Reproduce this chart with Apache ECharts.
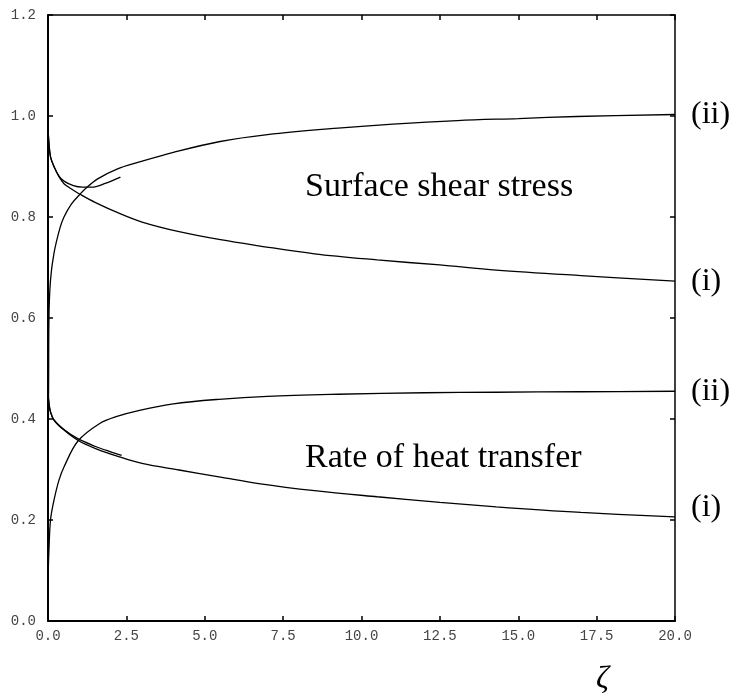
<!DOCTYPE html>
<html>
<head>
<meta charset="utf-8">
<script src="https://cdn.jsdelivr.net/npm/echarts@6/dist/echarts.min.js"></script>
<style>
  html, body { margin: 0; padding: 0; background: #fff; }
  #chart { width: 732px; height: 698px; }
</style>
</head>
<body>
<div id="chart"></div>
<script>
// zeta values and curves, [zeta, value]
const shearI = [[0, 0.976], [0.03, 0.946], [0.08, 0.919], [0.19, 0.9], [0.35, 0.88], [0.51, 0.866], [0.81, 0.853], [1.02, 0.845], [1.5, 0.829], [2.28, 0.807], [3, 0.79], [4.18, 0.771], [5.5, 0.755], [6.72, 0.743], [8.5, 0.727], [10.5, 0.715], [12.5, 0.705], [14.3, 0.695], [17, 0.684], [20, 0.673]];
const shearII = [[0, 0], [0.005, 0.3], [0.02, 0.48], [0.03, 0.6], [0.08, 0.675], [0.19, 0.728], [0.38, 0.778], [0.51, 0.8], [0.75, 0.826], [1.02, 0.845], [1.14, 0.853], [1.57, 0.875], [2.2, 0.895], [2.92, 0.909], [4, 0.928], [5.45, 0.949], [7, 0.963], [9.25, 0.976], [11, 0.984], [13.06, 0.991], [15, 0.995], [16.87, 0.999], [20, 1.003]];
const shearSeries = [[0, 0.976], [0.03, 0.946], [0.08, 0.919], [0.19, 0.9], [0.35, 0.881], [0.51, 0.871], [0.81, 0.862], [1.1, 0.859], [1.4, 0.859], [1.8, 0.866], [2.31, 0.879]];

const heatI = [[0, 0.452], [0.03, 0.431], [0.08, 0.414], [0.19, 0.398], [0.51, 0.378], [0.95, 0.358], [1.5, 0.342], [2.28, 0.325], [3, 0.312], [4.18, 0.299], [5.5, 0.285], [6.72, 0.272], [8.5, 0.258], [10.5, 0.246], [12.5, 0.235], [14.3, 0.226], [17, 0.215], [20, 0.206]];
const heatII = [[0, 0], [0.01, 0.1], [0.03, 0.14], [0.08, 0.2], [0.19, 0.239], [0.35, 0.279], [0.51, 0.305], [0.95, 0.356], [1.65, 0.391], [2.2, 0.405], [2.92, 0.417], [4, 0.43], [5.45, 0.439], [7, 0.445], [9.25, 0.449], [12, 0.452], [14.3, 0.453], [17, 0.454], [20, 0.455]];
const heatSeries = [[0, 0.452], [0.03, 0.431], [0.08, 0.414], [0.19, 0.398], [0.51, 0.379], [0.95, 0.361], [1.5, 0.346], [2.0, 0.335], [2.35, 0.328]];

const xTicks = { min: 0, max: 20, interval: 2.5 };
const yTicks = { min: 0, max: 1.2, interval: 0.2 };

const myChart = echarts.init(document.getElementById('chart'));

const tickFont = { fontFamily: 'Liberation Mono', fontSize: 14, color: '#444' };
const serif = 'Liberation Serif';

function curve(data, label, offset) {
    return {
        type: 'line',
        data: data,
        showSymbol: false,
        smooth: 0.35,
        lineStyle: { color: '#000', width: 1.3 },
        endLabel: label ? {
            show: true,
            formatter: label,
            distance: 16,
            offset: offset || [0, 0],
            fontFamily: serif,
            fontSize: 32,
            color: '#000'
        } : { show: false },
        silent: true,
        z: 3
    };
}

// frame: bottom/left carry labels, top/right only inward ticks
function frameAxis(pos, ticks, labelled) {
    return {
        type: 'value',
        position: pos,
        min: ticks.min,
        max: ticks.max,
        interval: ticks.interval,
        axisLine: { show: true, onZero: false, lineStyle: { color: '#000', width: labelled ? 2 : 1.5 } },
        axisTick: { show: true, inside: true, length: 5, lineStyle: { color: '#000', width: 1.5 } },
        axisLabel: labelled
            ? Object.assign({ margin: pos === 'left' ? 12 : 8, formatter: v => v.toFixed(1) }, tickFont)
            : { show: false },
        splitLine: { show: false }
    };
}

const option = {
    animation: false,
    grid: { left: 48, right: 57, top: 15, bottom: 77 },
    xAxis: [frameAxis('bottom', xTicks, true), frameAxis('top', xTicks, false)],
    yAxis: [frameAxis('left', yTicks, true), frameAxis('right', yTicks, false)],
    graphic: [{
        type: 'text',
        left: 305,
        top: 170,
        style: { text: 'Surface shear stress', font: '34px "Liberation Serif"', fill: '#000' }
    }, {
        type: 'text',
        left: 305,
        top: 441,
        style: { text: 'Rate of heat transfer', font: '34px "Liberation Serif"', fill: '#000' }
    }, {
        type: 'text',
        left: 596,
        top: 664,
        style: { text: 'ζ', font: 'italic 32px "Liberation Serif"', fill: '#000' }
    }],
    series: [
        curve(shearII, '(ii)'),
        curve(shearI, '(i)'),
        curve(shearSeries),
        curve(heatII, '(ii)'),
        curve(heatI, '(i)', [0, -9]),
        curve(heatSeries)
    ]
};

myChart.setOption(option);
</script>
</body>
</html>
